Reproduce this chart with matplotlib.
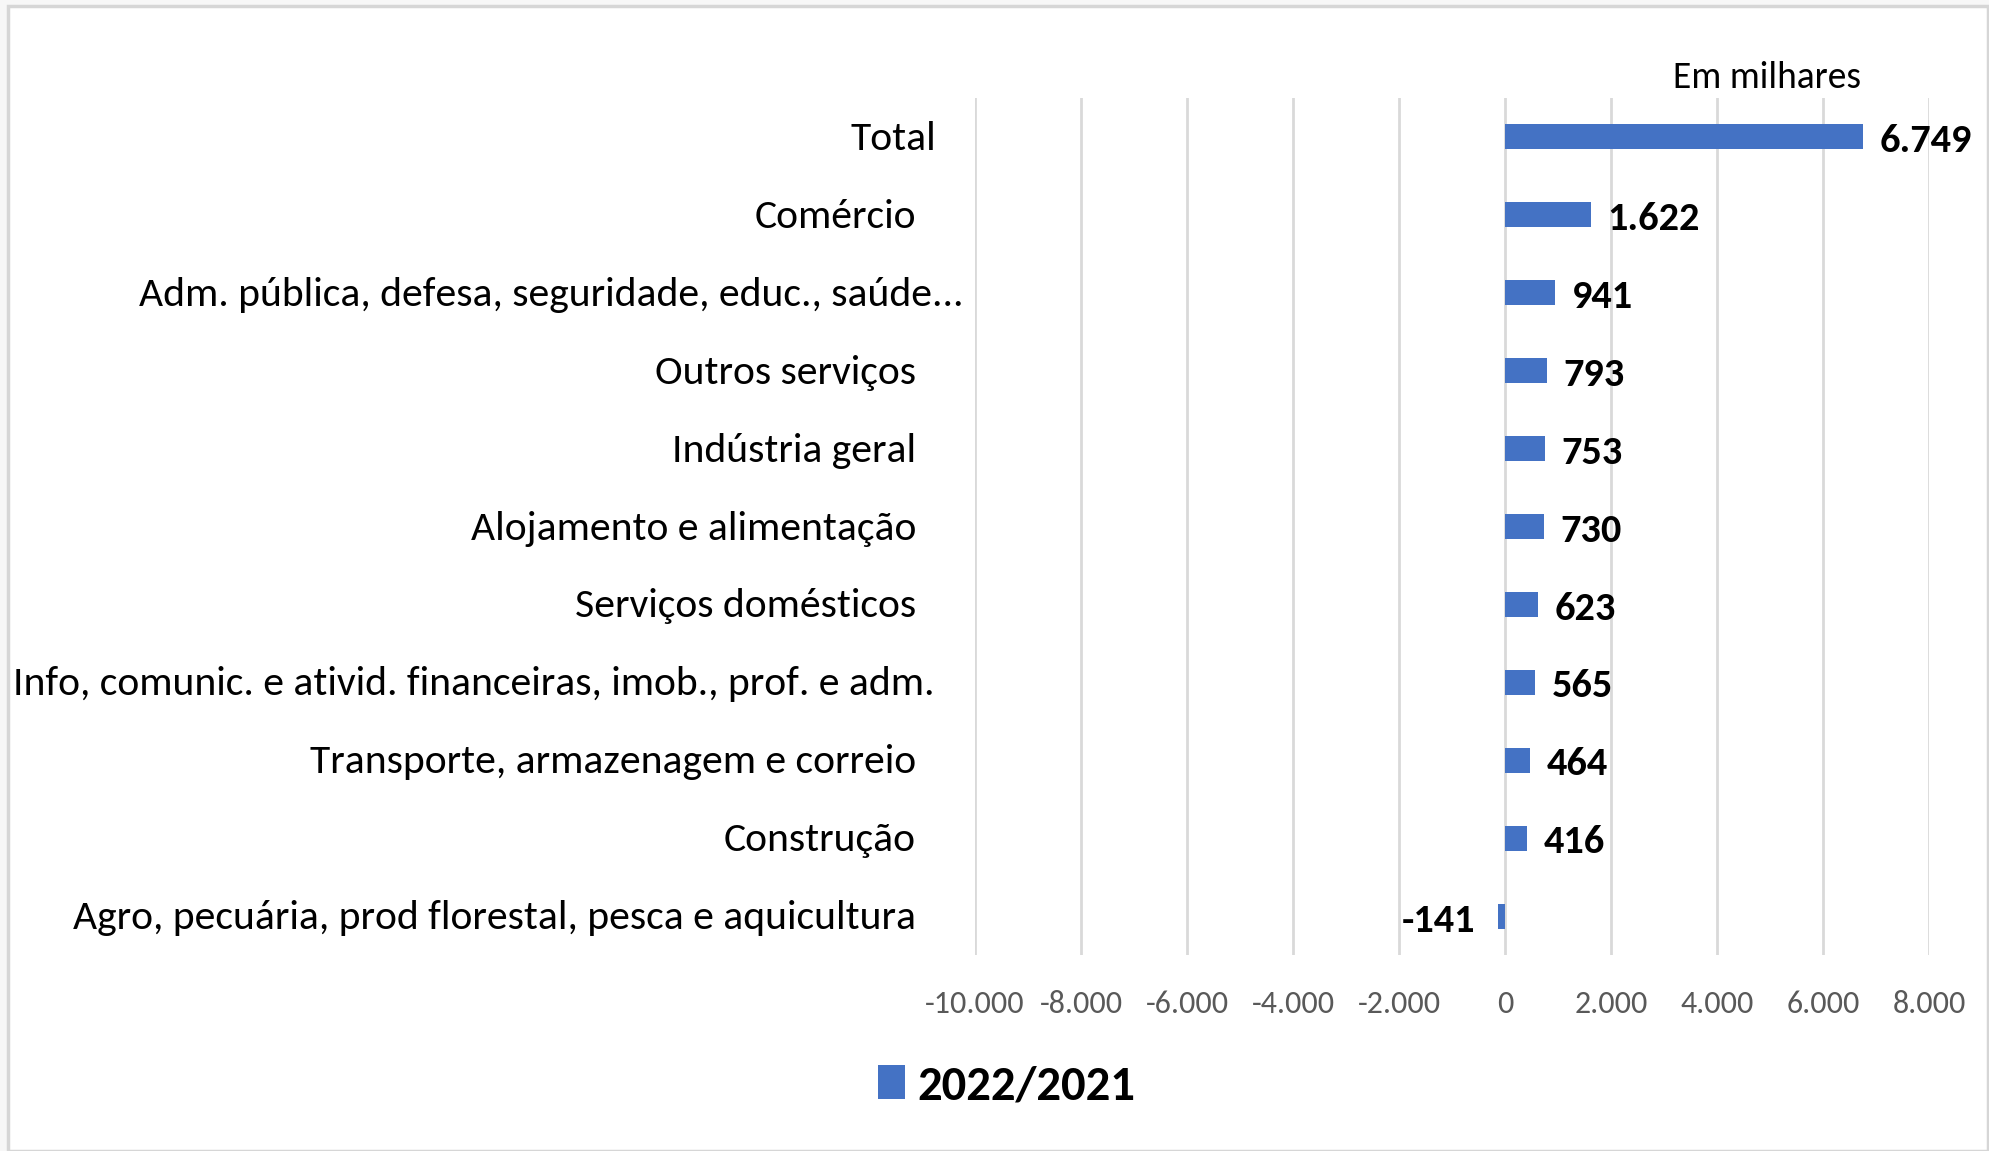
import matplotlib.pyplot as plt
from matplotlib.patches import Rectangle
from matplotlib.transforms import offset_copy
from matplotlib import font_manager

categorias = ["Total", "Comércio", "Adm. pública, defesa, seguridade, educ., saúde...",
              "Outros serviços", "Indústria geral", "Alojamento e alimentação",
              "Serviços domésticos", "Info, comunic. e ativid. financeiras, imob., prof. e adm.",
              "Transporte, armazenagem e correio", "Construção",
              "Agro, pecuária, prod florestal, pesca e aquicultura"]
valores = [6749, 1622, 941, 793, 753, 730, 623, 565, 464, 416, -141]
rotulos = ["6.749", "1.622", "941", "793", "753", "730", "623", "565", "464", "416", "-141"]
ticks = [-10000, -8000, -6000, -4000, -2000, 0, 2000, 4000, 6000, 8000]
tick_labels = ["-10.000", "-8.000", "-6.000", "-4.000", "-2.000", "0",
               "2.000", "4.000", "6.000", "8.000"]
serie = "2022/2021"

# deslocamento (px) da borda direita de cada rótulo em relação ao eixo
label_shift = [-39, -59, -11, -59, -59, -59, -59, -40, -59, -59, -59]

names = {f.name for f in font_manager.fontManager.ttflist}
candidatas = ["Carlito", "Liberation Sans Narrow", "Roboto Condensed", "Open Sans Condensed",
              "Liberation Sans"]
fonte = next(c for c in candidatas if c in names)
plt.rcParams['font.family'] = [fonte, 'DejaVu Sans']

azul = "#4472C4"
W, H = 1990, 1151
fig = plt.figure(figsize=(W / 100, H / 100), dpi=100)
fig.patch.set_facecolor("#f7f7f7")

# moldura do gráfico
fig.patches.append(Rectangle((8 / W, 0), (1988 - 8) / W, 1 - 6 / H, transform=fig.transFigure,
                             facecolor="white", edgecolor="#d6d6d6", linewidth=2.5, zorder=-5))

ax = fig.add_axes([975 / W, 1 - 955 / H, (1929 - 975) / W, (955 - 98) / H])
ax.set_facecolor("none")
y = list(range(len(categorias)))
ax.barh(y, valores, height=0.32, color=azul, zorder=3, label=serie)
ax.set_xlim(-10000, 8000)
ax.set_ylim(len(categorias) - 0.5, -0.5)
ax.set_xticks(ticks)
ax.set_xticklabels(tick_labels)
ax.tick_params(axis="x", length=0, pad=25, labelsize=23, labelcolor="#595959")
ax.set_yticks([])
for s in ax.spines.values():
    s.set_visible(False)
ax.grid(axis="x", color="#d9d9d9", linewidth=2, zorder=0)

for i, (cat, dx) in enumerate(zip(categorias, label_shift)):
    tr = offset_copy(ax.get_yaxis_transform(), fig=fig, x=dx * 0.72, y=-1.5, units="points")
    ax.text(0, i, cat, transform=tr, ha="right", va="center", fontsize=30, color="#000000")

for i, (v, r) in enumerate(zip(valores, rotulos)):
    if v >= 0:
        ax.annotate(r, (v, i), xytext=(12, -3), textcoords="offset points",
                    ha="left", va="center", fontsize=29, fontweight="bold")
    else:
        ax.annotate(r, (v, i), xytext=(-16, -3.5), textcoords="offset points",
                    ha="right", va="center", fontsize=29, fontweight="bold")

fig.text(1767 / W, 1 - 77 / H, "Em milhares", ha="center", va="center", fontsize=27)

fig.legend(loc="center left", bbox_to_anchor=(878 / W, 1 - 1086 / H), frameon=False,
           prop={"weight": "bold", "size": 35}, borderpad=0, borderaxespad=0,
           handlelength=0.56, handleheight=0.68, handletextpad=0.25)

fig.savefig("out.png", dpi=100)
